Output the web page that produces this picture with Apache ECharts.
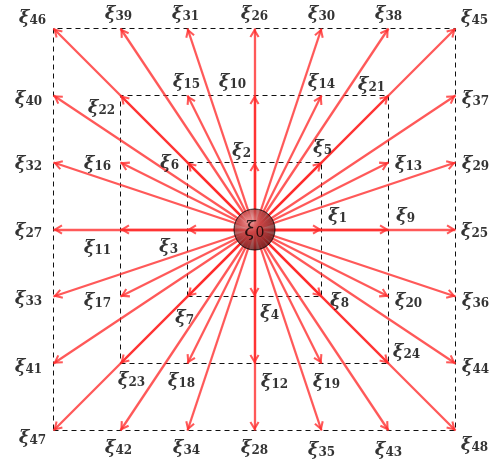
<!DOCTYPE html>
<html>
<head>
<meta charset="utf-8">
<script src="https://cdn.jsdelivr.net/npm/echarts@6/dist/echarts.min.js"></script>
<style>
  html, body { margin: 0; padding: 0; background: #fff; }
  #chart { width: 501px; height: 461px; }
</style>
</head>
<body>
<div id="chart"></div>
<script>
// Lattice neighbours ξ1..ξ48 around the central node ξ0 (grid units)
const nodeIds = [
  '1','2','3','4','5','6','7','8',
  '9','10','11','12','13','14','15','16','17','18','19','20','21','22','23','24',
  '25','26','27','28','29','30','31','32','33','34','35','36','37','38','39','40',
  '41','42','43','44','45','46','47','48'
];
const nodeX = [
  1, 0, -1, 0, 1, -1, -1, 1,
  2, 0, -2, 0, 2, 1, -1, -2, -2, -1, 1, 2, 2, -2, -2, 2,
  3, 0, -3, 0, 3, 1, -1, -3, -3, -1, 1, 3, 3, 2, -2, -3, -3, -2, 2, 3, 3, -3, -3, 3
];
const nodeY = [
  0, 1, 0, -1, 1, 1, -1, -1,
  0, 2, 0, -2, 1, 2, 2, 1, -1, -2, -2, -1, 2, 2, -2, -2,
  0, 3, 0, -3, 1, 3, 3, 1, -1, -3, -3, -1, 2, 3, 3, 2, -2, -3, -3, -2, 3, 3, -3, -3
];
// half-widths of the dashed shells
const shellRadii = [1, 2, 3];
const centerId = '0';

// label placement around each arrow tip, in pixels
const labelOffsets = [
  [16, -14], [-13, -12], [-19, 17], [15, 16], [1, -15], [-18, 0], [-3, 21], [18, 4],
  [17, -14], [-22, -14], [-23, 18], [20, 18], [20, 1], [0, -14], [-1, -14], [-23, 1],
  [-23, 4], [-6, 17], [5, 18], [20, 4], [-17, -11], [-19, 12], [11, 16], [18, -12],
  [19, 1], [0, -15], [-25, 1], [0, 17], [20, 1], [0, -15], [-2, -15], [-25, 1],
  [-25, 2], [-1, 17], [0, 19], [20, 4], [20, 3], [0, -15], [-2, -15], [-25, 3],
  [-25, 3], [-2, 17], [0, 19], [20, 3], [19, -11], [-21, -11], [-21, 7], [19, 14]
];

// arrowhead: a slim chevron whose tip sits at the centre of its 18x18 box,
// so the tip lands exactly on the end point of each arrow
const ARROW = 'path://M-4,-9 L-4,-9 L14,-9 L14,-9 Z M-4,9 L-4,9 L14,9 L14,9 Z ' +
  'M5,0 L10,8.6 L8.2,9.7 L5,4.2 L1.8,9.7 L0,8.6 Z';

const chart = echarts.init(document.getElementById('chart'), null, { renderer: 'canvas' });

const labelRich = {
  xi: { fontFamily: 'DejaVu Serif', fontStyle: 'italic', fontWeight: 'bold', fontSize: 18, color: '#000', verticalAlign: 'bottom', lineHeight: 19 },
  sub: { fontFamily: 'DejaVu Serif', fontStyle: 'normal', fontWeight: 'bold', fontSize: 12, color: '#000', verticalAlign: 'bottom', lineHeight: 13 }
};

const arrowData = nodeIds.map((id, i) => ({ coords: [[0, 0], [nodeX[i], nodeY[i]]] }));

const shellSeries = shellRadii.map(r => ({
  type: 'line',
  data: [[-r, -r], [r, -r], [r, r], [-r, r], [-r, -r]],
  symbol: 'none',
  silent: true,
  z: 1,
  lineStyle: { color: '#111', width: 1, type: [5, 4] }
}));

const option = {
  animation: false,
  backgroundColor: '#fff',
  grid: { left: 53.5, top: 28.5, width: 402, height: 402 },
  xAxis: { type: 'value', min: -3, max: 3, show: false },
  yAxis: { type: 'value', min: -3, max: 3, show: false },
  series: [
    ...shellSeries,
    {
      type: 'lines',
      coordinateSystem: 'cartesian2d',
      z: 2,
      symbol: ['none', ARROW],
      symbolSize: 18,
      lineStyle: { color: '#ff2a2a', width: 2.3, opacity: 0.78, curveness: 0 },
      data: arrowData
    },
    {
      type: 'scatter',
      z: 3,
      symbolSize: 0,
      silent: true,
      data: nodeIds.map((id, i) => ({
        value: [nodeX[i], nodeY[i]],
        label: {
          show: true,
          position: 'inside',
          offset: labelOffsets[i],
          align: 'center',
          verticalAlign: 'middle',
          fontFamily: 'DejaVu Serif',
          fontWeight: 'bold',
          formatter: '{xi|ξ}{sub|' + id + '}',
          rich: labelRich
        }
      }))
    },
    {
      type: 'scatter',
      z: 5,
      symbol: 'circle',
      symbolSize: 41,
      silent: true,
      itemStyle: {
        color: {
          type: 'radial', x: 0.38, y: 0.32, r: 0.72,
          colorStops: [
            { offset: 0, color: '#eeb0b0' },
            { offset: 0.35, color: '#c04c4c' },
            { offset: 1, color: '#5c1010' }
          ]
        },
        borderColor: '#000',
        borderWidth: 1
      },
      data: [{
        value: [0, 0],
        label: {
          show: true,
          position: 'inside',
          offset: [0, 0],
          align: 'center',
          verticalAlign: 'middle',
          formatter: '{xi|ξ}{sub|' + centerId + '}',
          rich: {
            xi: { fontFamily: 'DejaVu Serif', fontStyle: 'italic', fontSize: 20, color: '#000', verticalAlign: 'bottom', lineHeight: 22 },
            sub: { fontFamily: 'DejaVu Serif', fontSize: 14, color: '#000', verticalAlign: 'bottom', lineHeight: 15 }
          }
        }
      }]
    }
  ]
};
chart.setOption(option);
</script>
</body>
</html>
